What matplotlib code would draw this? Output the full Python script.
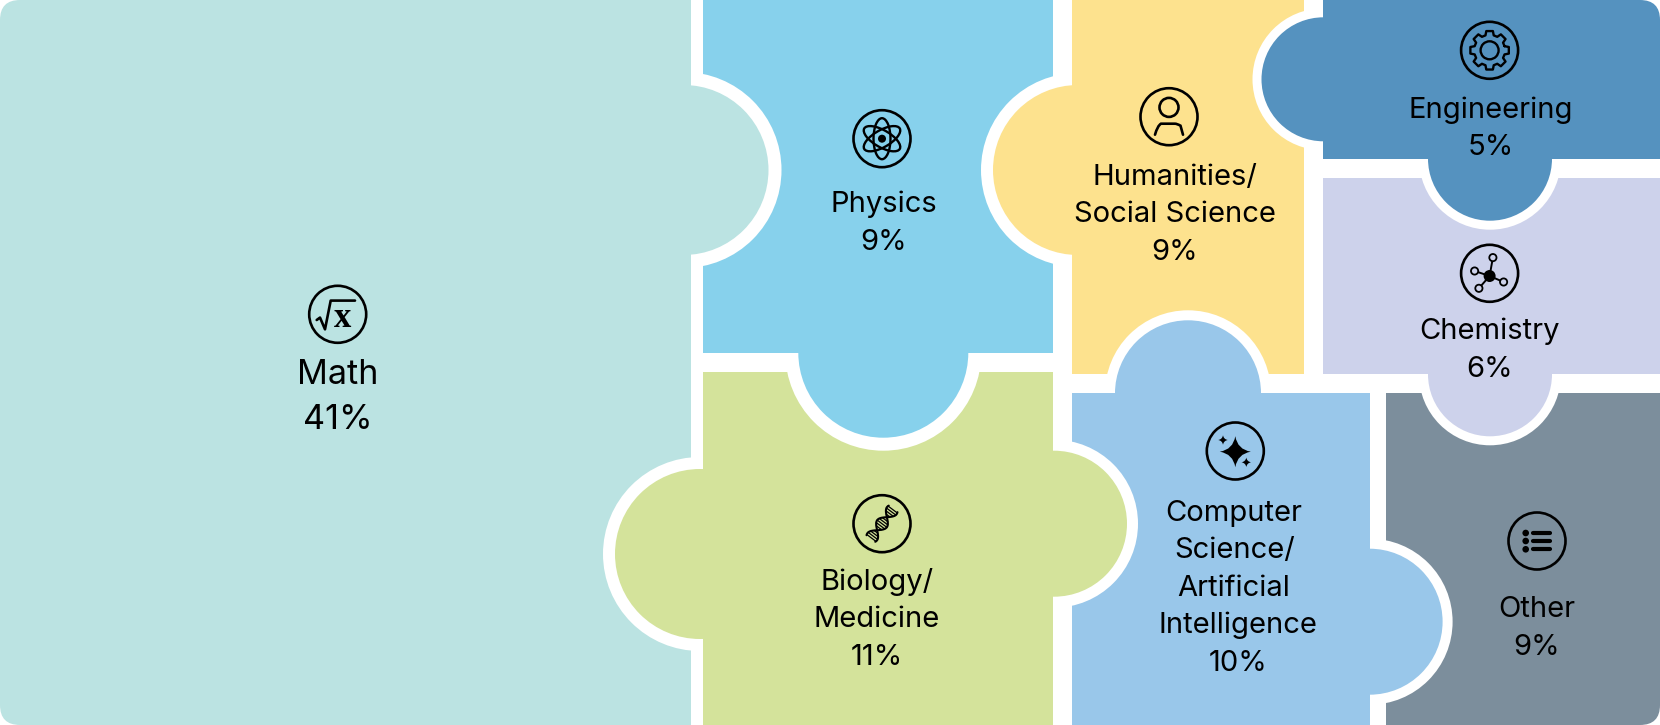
import numpy as np
import matplotlib
matplotlib.use('Agg')
import matplotlib.pyplot as plt
from matplotlib.patches import Circle, Ellipse, FancyBboxPatch, PathPatch, Rectangle
from matplotlib.path import Path

# chart data
categories = ['Math', 'Physics', 'Humanities/\nSocial Science', 'Engineering', 'Chemistry',
              'Biology/\nMedicine', 'Computer\nScience/\nArtificial\nIntelligence', 'Other']
shares = [41, 9, 9, 5, 6, 11, 10, 9]
colors = ['#BBE3E2', '#87D1EC', '#FDE28E', '#5592BF', '#CDD2EB', '#D4E39B', '#99C7EA', '#7C8E9C']
icons = ['sqrt', 'atom', 'person', 'gear', 'molecule', 'dna', 'sparkle', 'list']

# layout in pixels: x0, y0, x1, y1
boxes = [(0, 0, 691, 725), (703, 0, 1053, 352.7), (1072, 0, 1304, 374.3), (1323, 0, 1660, 158.7),
         (1323, 177.7, 1660, 374.3), (703, 371.7, 1053, 725), (1072, 393.3, 1369.6, 725),
         (1386.4, 393.3, 1660, 725)]
# owner, side, cx, cy, r, outer r
tabs = [(0, 'right', 683.5, 170, 85, 98),
        (1, 'bottom', 883.3, 352.7, 85, 98),
        (2, 'left', 1078, 170, 85, 97),
        (3, 'left', 1323.5, 79.3, 62, 71),
        (3, 'bottom', 1490, 158.7, 62, 71),
        (4, 'bottom', 1490, 374.3, 62, 71),
        (5, 'left', 700, 554, 85, 97),
        (5, 'right', 1054, 523.7, 73, 84),
        (6, 'top', 1188, 393.3, 73, 83),
        (6, 'right', 1369.6, 621.7, 73, 83)]
# icon centre, text centre x, first text baseline
icon_xy = [(337.7, 314.3), (882, 138.7), (1169, 116.7), (1489.6, 50.3),
           (1489.6, 273.3), (882, 523.7), (1235.3, 451), (1537, 541)]
text_x = [338, 883.6, 1174.8, 1491, 1489.6, 877, 1238, 1537]
text_y = [384, 212.3, 185, 118, 339.3, 590, 521, 617.3]
line_step = 37.4
# the CS label's upper lines sit a bit left of the lower two
cs_line_x = [1233.7, 1235, 1234, 1238, 1238]

plt.rcParams['font.family'] = ['Inter', 'DejaVu Sans']

LW = 1.9
fig = plt.figure(figsize=(16.6, 7.25), dpi=100, facecolor='white')
ax = fig.add_axes([0, 0, 1, 1])
ax.set_xlim(0, 1660)
ax.set_ylim(725, 0)
ax.axis('off')

frame = FancyBboxPatch((0, 0), 1660, 725, boxstyle='round,pad=0,rounding_size=20', transform=ax.transData)


def stroke(xs, ys, cx, cy, lw=LW, **kw):
    ax.plot(np.asarray(xs) + cx, np.asarray(ys) + cy, color='black', lw=lw, solid_capstyle='round',
            solid_joinstyle='round', zorder=6, **kw)


def ring(cx, cy, r, lw=LW, fill='none'):
    ax.add_patch(Circle((cx, cy), r, fc=fill, ec='black', lw=lw, zorder=6))


def dot(cx, cy, r):
    ax.add_patch(Circle((cx, cy), r, fc='black', ec='none', zorder=6))


def star(cx, cy, s):
    k = 0.14 * s
    verts = [(0, -s), (k, -k), (s, 0), (k, k), (0, s), (-k, k), (-s, 0), (-k, -k), (0, -s)]
    codes = [Path.MOVETO] + [Path.CURVE3] * 8
    verts = [(cx + a, cy + b) for a, b in verts]
    ax.add_patch(PathPatch(Path(verts, codes), fc='black', ec='none', zorder=6))


def draw_icon(kind, cx, cy, bg):
    ring(cx, cy, 28.5)
    if kind == 'sqrt':
        stroke([-21, -17.7, -12.7, -7, 17.3], [5.7, 3.3, 15, -13.7, -13.7], cx, cy, lw=1.9)
        ax.text(cx + 5, cy + 13, 'x', family='Liberation Serif', fontsize=25, weight='bold', ha='center',
                va='baseline', zorder=6)
    elif kind == 'atom':
        for ang in (90, 30, -30):
            ax.add_patch(Ellipse((cx, cy), 41, 17, angle=ang, fc='none', ec='black', lw=1.7, zorder=6))
        dot(cx, cy, 4)
    elif kind == 'person':
        ring(cx, cy - 9.3, 9.5)
        verts = [(-14, 18), (-11.5, 9), (-8, 7), (-6, 7), (0, 7), (6, 7), (8, 7), (11.5, 9), (14, 18)]
        codes = [Path.MOVETO, Path.CURVE3, Path.CURVE3, Path.LINETO, Path.LINETO, Path.LINETO,
                 Path.CURVE3, Path.CURVE3, Path.LINETO]
        verts = [(cx + a, cy + b) for a, b in verts]
        ax.add_patch(PathPatch(Path(verts, codes), fc='none', ec='black', lw=LW, capstyle='round', zorder=6))
    elif kind == 'gear':
        n = 8
        xs, ys = [], []
        for i in range(n):
            a = 2 * np.pi * i / n
            for da, rad in ((-0.27, 15.5), (-0.17, 19.5), (0.17, 19.5), (0.27, 15.5)):
                xs.append(rad * np.cos(a + da))
                ys.append(rad * np.sin(a + da))
        xs.append(xs[0])
        ys.append(ys[0])
        stroke(xs, ys, cx, cy, lw=1.7)
        ring(cx, cy, 9, lw=1.7)
    elif kind == 'molecule':
        hub = (0, 2.7)
        for a, b in ((3.3, -15.7), (-15, -2.3), (14, 8.7), (-10.7, 15)):
            stroke([hub[0], a], [hub[1], b], cx, cy, lw=1.4)
            ring(cx + a, cy + b, 3.6, lw=1.3, fill=bg)
        dot(cx, cy + hub[1], 6)
    elif kind == 'dna':
        # helix axis and its normal
        ux, uy = np.array([0.6, -0.8]), np.array([0.8, 0.6])
        t = np.linspace(0, 1, 80)
        along = -18.5 + 37 * t
        off = 6 * np.cos((t - 0.5) * np.pi / 0.44)
        stroke(ux[0] * along + uy[0] * off, ux[1] * along + uy[1] * off, cx, cy, lw=1.5)
        stroke(ux[0] * along - uy[0] * off, ux[1] * along - uy[1] * off, cx, cy, lw=1.5)
        for tt in np.linspace(0.02, 0.98, 15):
            if abs(tt - 0.28) < 0.05 or abs(tt - 0.72) < 0.05:
                continue
            o = 6 * np.cos((tt - 0.5) * np.pi / 0.44)
            al = -18.5 + 37 * tt
            stroke([ux[0] * al + uy[0] * o, ux[0] * al - uy[0] * o],
                   [ux[1] * al + uy[1] * o, ux[1] * al - uy[1] * o], cx, cy, lw=0.9)
    elif kind == 'sparkle':
        star(cx, cy + 0.7, 15.5)
        star(cx - 12.3, cy - 11, 4.8)
        star(cx + 11, cy + 11.3, 4.8)
    elif kind == 'list':
        for off in (-8, 0, 8.3):
            dot(cx - 11.3, cy + off, 3.3)
            stroke([-4.5, 13], [off, off], cx, cy, lw=3)


# pieces
for box, color in zip(boxes, colors):
    r = Rectangle((box[0], box[1]), box[2] - box[0], box[3] - box[1], fc=color, ec='none', zorder=1)
    ax.add_patch(r)
    r.set_clip_path(frame)

# puzzle knobs, only on the outside of the owning piece
for owner, side, cx, cy, rad, outer in tabs:
    x0, y0, x1, y1 = boxes[owner]
    if side == 'right':
        clip = (x1, 0, 1660 - x1, 725)
    elif side == 'left':
        clip = (0, 0, x0, 725)
    elif side == 'bottom':
        clip = (0, y1, 1660, 725 - y1)
    else:
        clip = (0, 0, 1660, y0)
    clip_rect = Rectangle(clip[:2], clip[2], clip[3], transform=ax.transData)
    for radius, fc, z in ((outer, 'white', 2), (rad, colors[owner], 3)):
        c = Circle((cx, cy), radius, fc=fc, ec='none', zorder=z)
        ax.add_patch(c)
        c.set_clip_path(clip_rect)

# icons and labels
for i, name in enumerate(categories):
    draw_icon(icons[i], icon_xy[i][0], icon_xy[i][1], colors[i])
    size = 24.6 if name == 'Math' else 21
    step = 45 if name == 'Math' else line_step
    lines = name.split('\n') + [f'{shares[i]}%']
    for j, line in enumerate(lines):
        x = cs_line_x[j] if icons[i] == 'sparkle' else text_x[i]
        ax.text(x, text_y[i] + j * step, line, fontsize=size, color='black', ha='center',
                va='baseline', zorder=7)

fig.savefig('out.png', dpi=100, facecolor='white')
